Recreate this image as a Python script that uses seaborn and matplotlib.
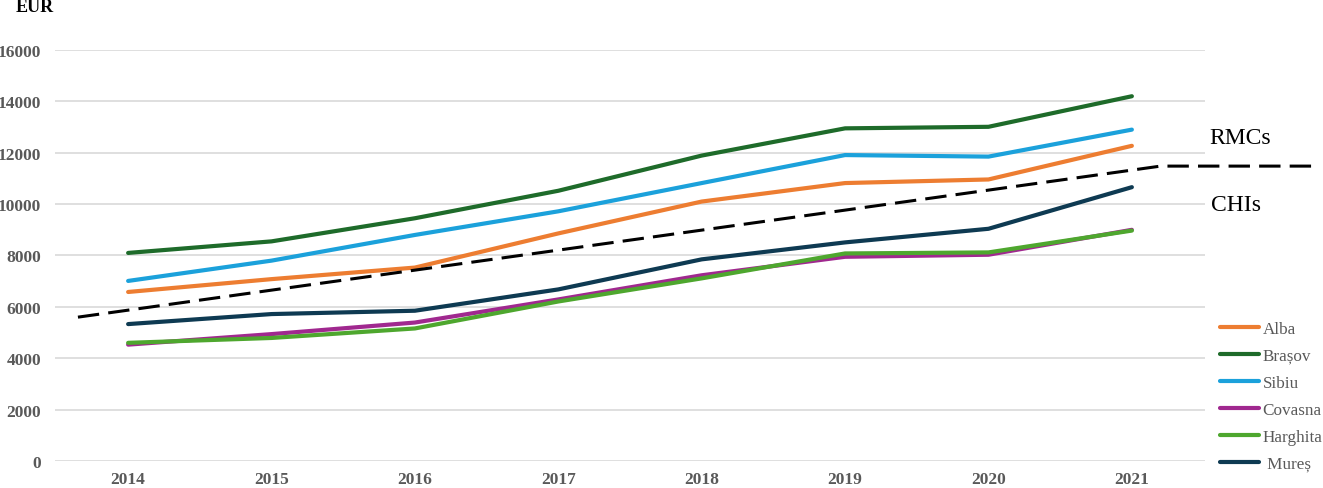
import matplotlib
matplotlib.use("Agg")
import matplotlib.pyplot as plt
import seaborn as sns
import pandas as pd

years = [2014, 2015, 2016, 2017, 2018, 2019, 2020, 2021]
alba = [6580, 7080, 7530, 8860, 10100, 10820, 10960, 12270]
brasov = [8100, 8550, 9450, 10520, 11890, 12950, 13010, 14200]
sibiu = [7010, 7800, 8800, 9720, 10820, 11910, 11850, 12900]
covasna = [4530, 4940, 5390, 6290, 7230, 7950, 8030, 9000]
harghita = [4600, 4790, 5160, 6210, 7110, 8080, 8120, 8970]
mures = [5330, 5720, 5850, 6680, 7850, 8510, 9040, 10660]

counties = ["Alba", "Brașov", "Sibiu", "Covasna", "Harghita", "Mureș"]
legend_labels = ["Alba", "Brașov", "Sibiu", "Covasna", "Harghita", " Mureș"]
colors = ["#ED7D31", "#1E6B2A", "#1BA1DB", "#A0288F", "#4EA72E", "#0E3A52"]

# threshold line separating RMCs / CHIs
thr_x = [2013.65, 2021.2, 2022.25]
thr_y = [5600, 11480, 11480]

y_ticks = [0, 2000, 4000, 6000, 8000, 10000, 12000, 14000, 16000]

series = [alba, brasov, sibiu, covasna, harghita, mures]
df = pd.DataFrame({
    "year": years * len(counties),
    "value": [v for s in series for v in s],
    "county": [c for c in counties for _ in years],
})

sns.set_theme(style="white")
plt.rcParams["font.family"] = ["Liberation Serif", "DejaVu Serif"]

fig = plt.figure(figsize=(13.23, 4.89), dpi=100)
ax = fig.add_axes([55 / 1323, 27 / 489, 1150 / 1323, 411 / 489])

sns.lineplot(data=df, x="year", y="value", hue="county", hue_order=counties,
             palette=colors, linewidth=3, ax=ax, legend=True)

ax.plot(thr_x, thr_y, color="black", linewidth=2.2, dashes=(7, 3), clip_on=False, zorder=5)

ax.set_xlim(2013.49, 2021.51)
ax.set_ylim(0, 16000)
ax.set_xticks(years)
ax.set_xticklabels([str(y) for y in years])
ax.set_yticks(y_ticks)
ax.set_yticklabels([str(t) for t in y_ticks])
ax.grid(axis="y", color="#D9D9D9", linewidth=1.2)
ax.grid(axis="x", visible=False)
for s in ax.spines.values():
    s.set_visible(False)
ax.tick_params(axis="both", length=0, labelsize=12.5, labelcolor="#595959")
ax.tick_params(axis="x", pad=7.5)
ax.tick_params(axis="y", pad=10)
for lab in ax.get_xticklabels() + ax.get_yticklabels():
    lab.set_fontweight("bold")
ax.set_xlabel("")
ax.set_ylabel("")

fig.text(16 / 1323, 1 - 8 / 489, "EUR", fontsize=13, fontweight="bold", color="black",
         va="center", ha="left")

ax.text(2021.54, 12575, "RMCs", fontsize=17, color="black", va="center", ha="left", clip_on=False)
ax.text(2021.55, 9970, "CHIs", fontsize=17, color="black", va="center", ha="left", clip_on=False)

handles, labels = ax.get_legend_handles_labels()
ax.get_legend().remove()
leg = fig.legend(handles, legend_labels, loc="upper left", bbox_to_anchor=(1220 / 1323, 1 - 322 / 489),
                 frameon=False, fontsize=12.3, handlelength=2.3, handletextpad=0.2,
                 labelspacing=0.64, borderpad=0, borderaxespad=0)
for t in leg.get_texts():
    t.set_color("#595959")
for h in leg.get_lines():
    h.set_linewidth(3)

fig.savefig("out.png", dpi=100)
